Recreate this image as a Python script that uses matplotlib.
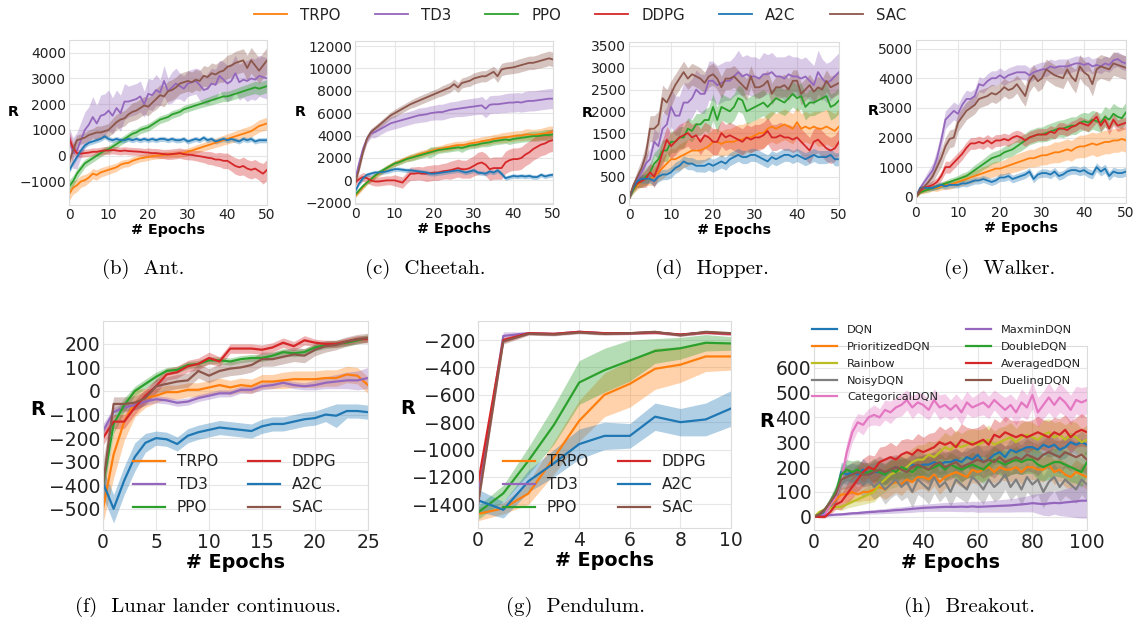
import matplotlib
matplotlib.use('Agg')
import matplotlib.pyplot as plt
import numpy as np

W, H = 1138, 625

# ---------------- data ----------------
algos = ['TRPO', 'TD3', 'PPO', 'DDPG', 'A2C', 'SAC']
ep50 = np.arange(0, 51)
ep25 = np.arange(0, 26)
ep10 = np.arange(0, 11)
ep100 = np.arange(0, 101, 2)

# Ant
ant_trpo = [-1500,-1250,-1150,-1000,-950,-850,-700,-750,-650,-600,
            -550,-500,-450,-350,-300,-280,-200,-150,-100,-80,
            -50,-20,0,10,30,40,50,60,80,100,
            150,200,250,300,350,400,450,500,550,600,
            650,700,750,800,850,900,950,1050,1150,1200,
            1250]
ant_td3 = [800,100,200,600,1000,1200,1500,1250,1550,1600,
           1750,1550,1850,1650,2100,2100,2150,2200,2300,2000,
           2400,2350,2550,2450,2900,2500,2650,2800,2700,2600,
           2800,2850,2900,2750,2550,2600,2800,2750,3100,2950,
           2800,2900,3200,2850,2950,2900,3000,2950,3100,3050,
           3000]
ant_ppo = [-1200,-1000,-700,-500,-300,-200,-100,0,100,200,
           250,350,450,550,650,750,850,900,1000,1050,
           1100,1200,1300,1400,1450,1500,1600,1650,1700,1800,
           1850,1900,1950,2000,2050,2100,2150,2200,2250,2300,
           2300,2350,2400,2450,2500,2550,2600,2650,2600,2650,
           2700]
ant_ddpg = [700,300,100,80,100,120,150,150,180,200,
            200,220,200,180,200,180,170,160,150,130,
            120,100,100,80,60,50,60,80,100,60,
            40,30,0,-20,-50,-80,-100,-150,-150,-200,
            -200,-300,-400,-450,-400,-500,-550,-500,-600,-700,
            -550]
ant_a2c = [-600,-300,-50,200,400,500,550,600,650,750,
           650,600,650,600,600,650,600,650,600,650,
           600,650,600,650,650,600,650,600,600,650,
           550,600,650,600,700,600,650,550,600,650,
           600,650,600,550,650,600,650,550,600,600,
           600]
ant_sac = [-300,200,600,650,700,800,850,900,900,950,
           1000,1150,1300,1400,1450,1600,1700,1750,1850,1950,
           1900,2050,2200,2350,2300,2500,2550,2650,2800,2850,
           2900,2850,2950,2900,3100,3050,3200,3150,3250,3300,
           3450,3500,3600,3650,3700,3400,3700,3500,3300,3500,
           3700]
ant_trpo_sd = [250,250,250,230,220,200,200,200,180,180,
               170,170,160,160,150,150,150,140,140,140,
               130,130,130,130,130,130,130,130,140,140,
               150,150,160,160,170,170,180,180,190,190,
               200,200,210,210,220,220,230,230,240,240,
               250]
ant_td3_sd = [300,600,700,700,700,700,800,700,800,800,
              800,700,700,700,700,600,600,600,600,500,
              600,600,600,500,600,500,600,600,500,500,
              500,500,500,600,500,600,600,600,600,700,
              700,700,700,700,700,800,800,800,800,800,
              800]
ant_ppo_sd = [250,220,200,180,160,150,150,150,150,150,
              150,150,150,150,150,150,150,150,150,150,
              150,150,150,150,150,150,150,150,150,150,
              150,150,150,150,160,170,180,180,190,200,
              200,200,200,210,220,220,230,240,250,250,
              250]
ant_ddpg_sd = [300,200,150,150,150,150,150,150,150,150,
               150,150,150,150,150,150,150,150,150,150,
               180,180,180,180,180,200,200,200,200,200,
               200,200,200,220,220,250,250,250,280,300,
               300,300,320,320,350,350,350,350,350,400,
               400]
ant_a2c_sd = 100
ant_sac_sd = [300,300,200,200,200,200,200,250,250,250,
              250,300,300,300,300,300,350,350,350,350,
              350,350,400,400,400,400,400,400,400,400,
              400,400,400,400,400,400,400,400,400,450,
              450,450,450,450,450,500,500,500,500,500,
              500]

# Cheetah
ch_trpo = [-1400,-1000,-600,-200,100,400,600,800,1100,1300,
           1500,1650,1800,1950,2050,2150,2300,2400,2500,2600,
           2700,2800,2850,2950,3000,3100,3150,3150,3200,3300,
           3350,3400,3500,3550,3600,3700,3750,3800,3850,3900,
           3950,4000,4000,4100,4100,4050,4100,4150,4200,4300,
           4300]
ch_td3 = [0,1500,2800,3700,4200,4300,4500,4700,4900,5100,
          5200,5300,5400,5500,5600,5700,5800,5850,5900,6000,
          6050,6100,6100,6200,6300,6350,6400,6450,6500,6550,
          6600,6650,6700,6400,6750,6800,6800,6850,6900,6950,
          6950,7000,6950,7050,7100,7100,7150,7200,7250,7300,
          7300]
ch_ppo = [-1300,-900,-500,-200,100,400,700,900,1100,1300,
          1500,1600,1750,1900,2000,2100,2200,2300,2400,2500,
          2600,2700,2750,2800,2850,2900,2950,2900,3000,3100,
          3150,3200,3300,3350,3400,3500,3550,3600,3650,3600,
          3700,3750,3800,3850,3900,3950,3950,4000,4050,4050,
          4100]
ch_ddpg = [-200,100,300,200,0,-100,-100,-50,0,0,
           0,-100,-200,200,600,600,650,600,600,650,
           700,700,800,850,900,1000,1100,1000,1000,1100,
           1300,1500,1600,1400,1000,1100,1100,1100,1600,1800,
           1900,1900,2000,2300,2500,2800,3000,3200,3300,3500,
           3600]
ch_a2c = [-1000,-300,200,500,600,700,700,750,800,900,
          1000,1000,950,900,900,850,800,750,700,600,
          600,650,700,750,800,850,900,800,700,800,
          900,700,650,600,800,700,900,600,200,300,
          400,350,400,350,400,300,300,500,350,450,
          500]
ch_sac = [-300,1000,2500,3700,4300,4600,4900,5200,5500,5800,
          6000,6200,6400,6600,6800,6950,7100,7250,7400,7550,
          7700,7850,8000,8150,8300,8600,8300,8700,8800,8900,
          9100,9200,9300,9300,9500,9700,9300,9900,10000,10050,
          10100,10200,10300,10400,10500,10500,10600,10700,10800,10900,
          10800]
ch_trpo_sd = [200,200,200,200,250,250,250,250,250,250,
              250,250,250,250,300,300,300,300,300,300,
              300,300,300,350,350,350,350,350,350,350,
              400,400,400,400,400,400,400,450,450,450,
              450,450,450,500,500,500,500,500,550,550,
              550]
ch_td3_sd = [200,300,400,400,400,500,500,500,500,600,
             600,600,600,600,600,600,650,650,650,650,
             650,700,700,700,700,700,700,750,750,750,
             750,750,800,800,800,800,800,800,850,850,
             850,850,850,900,900,900,900,900,900,900,
             900]
ch_ppo_sd = [200,200,200,200,250,250,250,250,250,250,
             250,250,250,250,300,300,300,300,300,500,
             400,300,300,300,300,300,300,400,300,300,
             300,300,300,350,350,350,350,350,350,400,
             400,400,400,400,450,450,450,450,500,500,
             500]
ch_ddpg_sd = [300,400,400,400,400,400,400,400,400,400,
              500,500,500,500,600,600,600,600,700,700,
              700,700,700,700,800,800,800,800,800,900,
              900,1000,1000,1000,1000,1000,1000,1000,1000,1000,
              1000,1000,1000,1000,1000,1000,1000,1000,1000,1000,
              1000]
ch_a2c_sd = 200
ch_sac_sd = [200,300,300,300,300,300,300,300,300,300,
             350,350,350,350,350,400,400,400,400,400,
             400,400,450,450,450,450,450,450,450,500,
             500,500,500,500,500,500,550,550,550,550,
             550,600,600,600,600,600,600,650,650,650,
             650]

# Hopper
hop_trpo = [0,200,300,400,450,450,500,600,700,800,
            900,900,950,1000,1050,1100,1100,1100,1150,1200,
            1300,1300,1250,1300,1300,1300,1350,1350,1400,1400,
            1450,1500,1500,1600,1650,1600,1650,1700,1650,1600,
            1750,1600,1650,1600,1650,1600,1600,1650,1600,1550,
            1650]
hop_td3 = [0,250,450,600,800,900,1300,1200,1600,1700,
           2100,1900,1900,2200,2200,2300,2500,2400,2400,2700,
           2700,2600,2650,2700,2700,2800,2900,2800,2850,2800,
           2800,2750,2850,2850,2900,2800,2800,2750,2850,2800,
           2800,2750,2800,2700,2600,2900,2750,2650,2700,2800,
           2900]
hop_ppo = [0,200,350,400,500,600,800,900,1100,1100,
           1300,1300,1400,1400,1600,1550,1700,1700,1800,1800,
           2100,1800,2100,2050,2000,2100,2300,2250,2000,2050,
           2100,2150,2200,2100,2200,2300,2250,2200,2300,2400,
           2300,2350,2100,2200,2200,2250,2300,2350,2100,2150,
           2250]
hop_ddpg = [0,250,350,400,450,600,500,750,1050,1350,
            1200,1300,1400,1450,1500,1400,1450,1300,1450,1400,
            1300,1300,1500,1400,1450,1400,1350,1300,1400,1350,
            1400,1400,1450,1550,1400,1400,1450,1400,1400,1350,
            1400,1300,1200,1100,1300,1350,1250,1150,1100,1150,
            1300]
hop_a2c = [0,250,400,450,450,450,400,500,550,550,
           600,700,750,850,800,800,750,750,750,800,
           750,800,850,800,900,950,1000,950,950,1000,
           1000,950,900,850,950,900,950,1000,1000,950,
           1000,950,900,950,1000,950,950,950,1000,900,
           900]
hop_sac = [0,300,500,700,1000,1600,1600,1700,2300,2200,
           2400,2600,2750,2900,2750,2850,2800,2750,2650,2800,
           2850,2750,2550,2750,2750,2800,2700,2600,2500,2800,
           2550,2550,2600,2700,2400,2550,2550,2600,2500,2700,
           2700,2400,2500,2600,2450,2550,2500,2700,2550,2600,
           2650]
hop_trpo_sd = [30,80,100,120,150,150,200,200,250,250,
               250,250,300,300,300,300,300,300,300,300,
               300,300,300,300,300,350,350,350,350,350,
               350,350,350,350,350,350,350,350,350,350,
               350,350,350,350,350,400,400,400,400,400,
               400]
hop_td3_sd = [30,80,120,150,200,250,300,300,350,400,
              450,450,450,450,450,450,450,450,450,450,
              450,450,450,450,450,450,500,450,450,450,
              450,450,500,450,450,450,450,500,450,450,
              450,450,450,450,450,500,450,450,450,450,
              450]
hop_ppo_sd = [30,80,100,150,200,200,250,250,250,250,
              250,250,250,250,250,250,250,250,250,300,
              300,300,300,300,300,300,300,300,300,300,
              300,300,300,300,300,300,300,300,300,300,
              300,300,300,300,300,300,300,300,300,300,
              300]
hop_ddpg_sd = [30,80,100,150,200,200,250,250,300,300,
               300,300,300,300,300,300,300,300,300,300,
               300,300,300,300,300,300,300,300,300,300,
               300,300,300,300,300,300,300,300,300,300,
               300,300,300,300,300,300,300,300,300,300,
               300]
hop_a2c_sd = [30,60,80,100,100,100,120,120,120,120,
              130,130,130,130,140,140,140,140,150,150,
              150,150,150,150,150,150,150,150,150,150,
              150,150,150,150,150,150,150,150,150,150,
              150,150,150,150,150,150,150,150,150,150,
              150]
hop_sac_sd = [30,80,150,200,250,300,300,300,300,300,
              300,250,250,250,250,250,250,250,250,250,
              250,250,250,250,250,250,250,250,250,250,
              250,250,250,250,250,250,250,250,250,250,
              250,250,250,250,250,250,250,250,250,250,
              250]

# Walker
wk_trpo = [0,150,200,250,300,300,350,400,400,450,
           500,550,600,650,700,750,800,850,900,950,
           950,1000,1050,1100,1150,1200,1250,1300,1300,1350,
           1400,1400,1450,1500,1500,1550,1600,1550,1650,1700,
           1700,1750,1800,1750,1800,1850,1850,1900,1900,1950,
           1900]
wk_td3 = [0,300,500,700,900,1300,1900,2600,2750,2900,
          2800,3100,3300,3300,3400,3800,3750,3900,4000,4000,
          4100,4000,4100,4150,4200,4200,4200,4100,4200,4250,
          4300,4300,4400,4350,4400,4400,4400,4450,4500,4500,
          4450,4500,4400,4450,4400,4500,4450,4600,4650,4550,
          4500]
wk_ppo = [0,150,200,250,300,350,400,450,500,550,
          600,650,700,800,900,1000,1100,1200,1300,1350,
          1400,1500,1550,1600,1700,1800,1900,2000,2050,2100,
          2100,2150,2200,2250,2300,2300,2350,2400,2400,2500,
          2550,2500,2600,2550,2500,2700,2600,2800,2700,2650,
          2850]
wk_ddpg = [0,200,300,350,400,500,700,1000,1000,1150,
           1300,1450,1650,1800,1800,1850,1800,1900,1800,1900,
           1900,1950,1900,2000,2050,2000,1900,2000,2050,2100,
           2100,2100,2200,2150,2300,2300,2250,2350,2400,2500,
           2450,2400,2550,2700,2400,2600,2300,2600,2400,2450,
           2500]
wk_a2c = [0,300,300,300,300,350,400,350,400,400,
          400,450,450,500,550,550,600,550,500,550,
          650,650,700,600,650,700,750,850,600,750,
          800,800,750,850,700,750,850,900,900,850,
          900,800,750,1000,850,950,700,850,800,800,
          850]
wk_sac = [0,250,350,500,700,1000,1300,1700,1950,2000,
          2500,2700,2900,3000,3100,3300,3350,3400,3500,3450,
          3550,3700,3600,3650,3800,3600,3400,3900,4100,3900,
          4000,4300,4200,4100,4050,4000,4300,4050,3900,4400,
          4200,4100,3800,4300,4400,4350,4300,4500,4450,4400,
          4350]
wk_trpo_sd = [30,60,80,100,100,120,120,150,150,150,
              150,180,180,200,200,200,220,220,250,250,
              250,250,280,280,300,300,300,300,300,320,
              320,320,320,350,350,350,350,350,350,380,
              380,380,380,400,400,400,400,400,400,400,
              400]
wk_td3_sd = [30,100,150,200,250,300,300,300,300,300,
             300,300,300,250,250,250,250,250,250,250,
             250,250,250,250,250,250,250,250,250,250,
             250,250,250,250,250,250,250,250,250,250,
             250,250,250,250,250,250,250,250,250,250,
             250]
wk_ppo_sd = [30,50,60,80,80,100,100,100,120,120,
             120,150,150,150,180,180,180,200,200,200,
             200,200,220,220,220,250,250,250,250,250,
             250,280,280,280,280,300,300,300,300,300,
             300,320,320,320,320,350,350,350,350,350,
             350]
wk_ddpg_sd = [30,80,100,120,150,150,150,200,200,200,
              200,200,200,200,200,200,200,200,200,200,
              200,200,200,200,200,200,200,200,200,200,
              200,200,200,200,200,200,200,200,200,200,
              200,200,200,200,200,200,200,200,200,200,
              200]
wk_a2c_sd = [30,60,80,80,80,100,100,100,100,100,
             100,100,120,120,120,120,120,120,120,120,
             130,130,130,130,130,130,130,130,130,130,
             140,140,140,140,140,140,140,140,140,140,
             150,150,150,150,150,150,150,150,150,150,
             150]
wk_sac_sd = [30,80,100,150,200,250,300,300,300,300,
             300,300,300,300,300,300,300,300,300,300,
             300,300,300,300,300,350,350,350,350,350,
             350,350,350,350,350,350,350,350,400,400,
             400,400,400,400,400,400,400,400,400,400,
             400]

# Lunar lander continuous
ll_trpo = [-500,-270,-130,-50,-30,-20,-5,-5,5,5,15,25,15,25,20,40,40,45,50,50,50,55,55,70,65,25]
ll_td3 = [-170,-90,-70,-60,-45,-35,-40,-50,-45,-30,-20,-10,-10,5,5,20,25,35,25,20,25,35,40,45,45,55]
ll_ppo = [-400,-140,-60,0,30,60,85,90,110,115,130,130,125,135,140,140,150,165,160,165,185,195,200,205,215,225]
ll_ddpg = [-200,-130,-130,-70,-20,20,70,80,105,115,140,125,180,180,180,175,185,205,190,215,205,200,200,210,220,220]
ll_a2c = [-390,-500,-380,-280,-220,-200,-205,-225,-190,-175,-165,-155,-160,-165,-170,-150,-140,-140,-130,-120,-115,-100,-105,-85,-85,-90]
ll_sac = [-400,-55,-55,-50,-30,20,30,40,45,85,65,85,95,100,110,135,135,145,155,150,175,190,195,210,220,225]
ll_trpo_sd = [60,100,80,60,40,30,30,30,30,30,30,30,30,30,30,30,30,35,35,35,35,35,35,35,35,35]
ll_td3_sd = [30,20,20,20,15,15,15,15,15,15,15,15,15,15,15,15,15,15,15,15,20,25,30,35,40,45]
ll_ppo_sd = [40,40,30,20,20,20,15,15,15,15,15,15,15,15,15,15,15,15,15,15,15,15,15,15,15,15]
ll_ddpg_sd = [30,30,30,30,30,30,25,25,25,25,25,20,20,20,20,20,20,20,20,20,15,15,15,15,15,15]
ll_a2c_sd = [60,60,60,60,40,30,30,30,30,30,30,30,30,30,30,30,30,30,30,30,30,30,50,30,30,30]
ll_sac_sd = [100,30,30,30,30,30,30,30,30,30,30,30,30,30,30,30,30,30,30,30,25,25,20,20,20,20]

# Pendulum
pd_trpo = [-1470,-1430,-1320,-1060,-790,-600,-520,-410,-380,-320,-320]
pd_td3 = [-1350,-170,-150,-155,-140,-150,-150,-145,-160,-145,-155]
pd_ppo = [-1460,-1320,-1080,-820,-510,-420,-350,-280,-260,-220,-225]
pd_ddpg = [-1250,-200,-150,-155,-140,-150,-150,-145,-160,-145,-155]
pd_a2c = [-1370,-1440,-1230,-1100,-960,-900,-900,-760,-800,-780,-700]
pd_sac = [-1400,-210,-155,-160,-145,-155,-150,-140,-165,-140,-150]
pd_trpo_sd = [50,40,80,120,150,160,170,150,130,110,100]
pd_td3_sd = [30,30,10,10,10,10,10,10,10,10,10]
pd_ppo_sd = [50,60,100,140,160,160,150,90,80,60,50]
pd_ddpg_sd = [30,20,10,10,10,10,10,10,10,10,10]
pd_a2c_sd = [80,60,80,100,110,100,90,100,100,120,130]
pd_sac_sd = [40,20,10,10,10,10,10,10,10,10,10]

# Breakout (every 2 epochs)
dqn_names = ['DQN', 'PrioritizedDQN', 'Rainbow', 'NoisyDQN', 'CategoricalDQN',
             'MaxminDQN', 'DoubleDQN', 'AveragedDQN', 'DuelingDQN']
bo_dqn = [0,5,20,50,80,180,170,180,170,190,
          170,180,180,170,190,200,190,200,210,200,
          210,210,220,210,220,220,230,220,240,230,
          250,220,230,250,260,240,270,260,270,280,
          280,270,290,280,290,270,280,300,290,300,
          290]
bo_prio = [0,10,30,50,70,90,90,100,90,100,
           100,110,120,110,130,140,130,150,140,160,
           160,150,170,140,160,170,180,170,160,190,
           180,190,200,180,200,190,190,200,180,200,
           200,190,190,210,180,190,170,160,180,170,
           160]
bo_rainbow = [0,20,30,35,40,40,50,60,70,80,
              90,100,130,150,170,180,190,200,220,230,
              230,250,240,260,280,270,290,280,290,300,
              290,300,310,290,300,310,320,300,320,330,
              320,310,330,340,320,330,310,330,320,300,
              310]
bo_noisy = [0,10,30,60,90,130,150,140,160,130,
            150,120,140,110,130,150,120,140,100,150,
            130,110,160,120,140,100,150,130,110,160,
            140,110,150,120,140,170,120,150,110,160,
            130,150,100,140,160,120,150,130,110,150,
            130]
bo_cat = [0,0,10,50,80,150,260,340,380,370,
          400,410,400,430,420,440,450,470,440,460,
          450,430,470,440,450,430,450,420,460,440,
          450,460,440,470,450,430,450,420,460,440,
          490,420,450,480,450,480,460,430,470,460,
          470]
bo_maxmin = [0,2,5,7,9,10,12,14,15,17,
             19,20,22,23,25,27,28,30,32,34,
             36,37,38,39,40,40,40,41,40,42,
             40,41,42,43,44,45,46,48,50,52,
             55,53,51,54,56,55,58,60,62,65,
             65]
bo_double = [0,10,30,60,100,170,190,180,190,170,
             180,190,180,170,190,180,200,190,180,200,
             200,190,200,210,190,210,200,190,200,210,
             200,190,210,230,220,210,220,230,220,230,
             230,210,200,210,220,220,210,200,190,180,
             220]
bo_avg = [0,0,0,20,50,60,90,120,150,180,
          200,190,220,230,240,230,250,260,250,270,
          260,270,280,300,290,300,280,310,300,290,
          300,310,290,330,320,340,330,320,330,320,
          330,340,330,320,340,330,350,320,340,350,
          340]
bo_duel = [0,10,30,60,90,150,160,170,180,170,
           170,180,190,180,190,200,190,180,200,210,
           200,190,210,220,200,210,220,200,210,220,
           230,220,230,220,240,220,230,240,230,250,
           240,230,250,260,250,240,260,250,240,250,
           230]
bo_dqn_sd = [0,5,10,20,30,40,40,35,40,45,40,40,45,40,40,45,40,40,45,40,
             40,45,40,40,45,40,45,40,40,45,40,45,40,40,45,40,45,40,40,45,
             40,45,40,40,45,40,45,40,40,45,40]
bo_prio_sd = [0,5,10,15,20,30,30,35,30,35,35,40,35,40,45,40,45,40,45,50,
              45,50,45,50,45,50,45,50,45,50,50,45,50,45,50,45,50,45,50,45,
              50,45,50,45,50,45,50,45,50,45,50]
bo_rainbow_sd = [0,5,10,10,10,15,15,20,25,30,35,40,45,50,55,60,55,60,55,60,
                 60,55,60,55,60,55,60,55,60,55,60,55,60,55,60,55,60,55,60,55,
                 60,55,60,55,60,55,60,55,60,55,60]
bo_noisy_sd = [0,5,10,20,30,40,45,50,55,50,55,50,55,60,55,60,55,60,65,60,
               55,60,65,60,55,60,65,60,55,60,65,60,55,60,65,60,55,60,65,60,
               55,60,65,60,55,60,65,60,55,60,65]
bo_cat_sd = [0,0,5,10,20,30,40,40,35,40,35,40,35,40,45,40,45,40,45,40,
             45,40,45,50,45,40,45,50,45,40,45,50,45,40,45,50,45,50,55,50,
             55,60,55,60,55,60,55,60,55,60,55]
bo_maxmin_sd = [0,2,3,4,5,5,6,6,7,8,8,9,10,10,11,12,12,13,14,14,
                15,15,16,17,18,18,19,20,20,21,22,22,23,24,25,26,27,28,30,32,
                35,40,45,50,45,50,55,60,65,70,70]
bo_double_sd = [0,5,10,20,30,40,40,45,40,45,40,45,40,45,40,45,40,45,40,45,
                45,50,45,50,45,50,45,50,45,50,50,55,50,55,50,55,50,55,50,55,
                55,60,55,60,55,60,55,60,55,60,55]
bo_avg_sd = [0,5,5,10,20,30,40,45,50,55,50,55,60,55,60,55,60,55,60,65,
             60,65,60,65,60,65,60,65,60,65,60,65,60,65,60,65,60,65,60,65,
             60,65,60,65,60,65,60,65,60,65,60]
bo_duel_sd = [0,5,10,20,30,40,45,50,45,50,45,50,55,50,55,50,55,50,55,60,
              55,60,55,60,55,60,55,60,55,60,60,65,60,65,60,65,60,65,60,65,
              60,65,60,65,60,65,60,65,60,65,60]

# ---------------- style ----------------
colors = {'TRPO': '#ff7f0e', 'TD3': '#9467bd', 'PPO': '#2ca02c',
          'DDPG': '#d62728', 'A2C': '#1f77b4', 'SAC': '#8c564b',
          'DQN': '#1f77b4', 'PrioritizedDQN': '#ff7f0e', 'Rainbow': '#bcbd22',
          'NoisyDQN': '#7f7f7f', 'CategoricalDQN': '#e377c2', 'MaxminDQN': '#9467bd',
          'DoubleDQN': '#2ca02c', 'AveragedDQN': '#d62728', 'DuelingDQN': '#8c564b'}

plt.rcParams['font.family'] = ['DejaVu Sans']
plt.rcParams['text.color'] = '#222222'

fig = plt.figure(figsize=(W / 100, H / 100), dpi=100)


def box(l, t, r, b):
    return [l / W, 1 - b / H, (r - l) / W, (b - t) / H]


def panel(rect, x, means, sds, names, xticks, yticks, ylim, fs, lw, rpos):
    ax = fig.add_axes(box(*rect))
    for n in names:
        m = np.asarray(means[n], dtype=float)
        s = np.asarray(sds[n], dtype=float)
        ax.fill_between(x, m - s, m + s, color=colors[n], alpha=0.35, lw=0)
        ax.plot(x, m, color=colors[n], lw=lw, label=n)
    ax.set_xlim(x[0], x[-1])
    ax.set_ylim(*ylim)
    ax.set_xticks(xticks)
    ax.set_yticks(yticks)
    ax.grid(True, color='#e6e6e6', lw=0.8)
    ax.set_axisbelow(True)
    for sp in ax.spines.values():
        sp.set_color('#dcdcdc')
        sp.set_linewidth(0.8)
    ax.tick_params(length=0, pad=2, labelsize=fs, colors='#222222')
    ax.set_xlabel('# Epochs', fontsize=fs + 0.3, fontweight='bold', labelpad=1)
    ax.set_ylabel('R', fontsize=fs + 0.3, fontweight='bold', rotation=0)
    ax.yaxis.set_label_coords(*rpos)
    return ax


def pack(prefix_vals):
    return dict(zip(algos, prefix_vals))


top_fs = 10
ax_ant = panel((69, 40, 267, 205), ep50,
               pack([ant_trpo, ant_td3, ant_ppo, ant_ddpg, ant_a2c, ant_sac]),
               pack([ant_trpo_sd, ant_td3_sd, ant_ppo_sd, ant_ddpg_sd, ant_a2c_sd, ant_sac_sd]),
               algos, range(0, 51, 10), range(-1000, 4001, 1000), (-1915, 4490),
               top_fs, 1.3, (-0.28, 0.52))
ax_ch = panel((355, 41, 553, 204), ep50,
              pack([ch_trpo, ch_td3, ch_ppo, ch_ddpg, ch_a2c, ch_sac]),
              pack([ch_trpo_sd, ch_td3_sd, ch_ppo_sd, ch_ddpg_sd, ch_a2c_sd, ch_sac_sd]),
              algos, range(0, 51, 10), range(-2000, 12001, 2000), (-2110, 12450),
              top_fs, 1.3, (-0.275, 0.52))
ax_hop = panel((629, 42, 839, 205), ep50,
               pack([hop_trpo, hop_td3, hop_ppo, hop_ddpg, hop_a2c, hop_sac]),
               pack([hop_trpo_sd, hop_td3_sd, hop_ppo_sd, hop_ddpg_sd, hop_a2c_sd, hop_sac_sd]),
               algos, range(0, 51, 10), range(0, 3501, 500), (-150, 3590),
               top_fs, 1.3, (-0.2, 0.52))
ax_wk = panel((916, 40, 1126, 203), ep50,
              pack([wk_trpo, wk_td3, wk_ppo, wk_ddpg, wk_a2c, wk_sac]),
              pack([wk_trpo_sd, wk_td3_sd, wk_ppo_sd, wk_ddpg_sd, wk_a2c_sd, wk_sac_sd]),
              algos, range(0, 51, 10), range(0, 5001, 1000), (-210, 5290),
              top_fs, 1.3, (-0.205, 0.52))

bot_fs = 13.5
ax_ll = panel((103, 321, 368, 530), ep25,
              pack([ll_trpo, ll_td3, ll_ppo, ll_ddpg, ll_a2c, ll_sac]),
              pack([ll_trpo_sd, ll_td3_sd, ll_ppo_sd, ll_ddpg_sd, ll_a2c_sd, ll_sac_sd]),
              algos, range(0, 26, 5), range(-500, 201, 100), (-590, 297),
              bot_fs, 1.6, (-0.245, 0.53))
ax_pd = panel((478, 321, 731, 528), ep10,
              pack([pd_trpo, pd_td3, pd_ppo, pd_ddpg, pd_a2c, pd_sac]),
              pack([pd_trpo_sd, pd_td3_sd, pd_ppo_sd, pd_ddpg_sd, pd_a2c_sd, pd_sac_sd]),
              algos, range(0, 11, 2), range(-1400, -199, 200), (-1573, -61),
              bot_fs, 1.6, (-0.277, 0.53))
bo_means = dict(zip(dqn_names, [bo_dqn, bo_prio, bo_rainbow, bo_noisy, bo_cat,
                                bo_maxmin, bo_double, bo_avg, bo_duel]))
bo_sds = dict(zip(dqn_names, [bo_dqn_sd, bo_prio_sd, bo_rainbow_sd, bo_noisy_sd, bo_cat_sd,
                              bo_maxmin_sd, bo_double_sd, bo_avg_sd, bo_duel_sd]))
ax_bo = panel((814, 346, 1087, 530), ep100, bo_means, bo_sds, dqn_names,
              range(0, 101, 20), range(0, 601, 100), (-53, 687),
              bot_fs, 1.6, (-0.175, 0.54))

# legends
h, l = ax_ant.get_legend_handles_labels()
fig.legend(h, l, loc='center', bbox_to_anchor=(580 / W, 1 - 15 / H), ncol=6,
           frameon=False, fontsize=10.8, handlelength=2.2, handletextpad=0.85,
           columnspacing=2.3)
for ax, lx in ((ax_ll, 133), (ax_pd, 503)):
    h, l = ax.get_legend_handles_labels()
    ax.legend(h, l, loc='upper left', bbox_to_anchor=(lx / W, 1 - 454 / H),
              bbox_transform=fig.transFigure, ncol=2, frameon=False, fontsize=11,
              borderpad=0, borderaxespad=0, handlelength=2.1, handletextpad=0.75,
              columnspacing=2.0, labelspacing=0.52)
h, l = ax_bo.get_legend_handles_labels()
ax_bo.legend(h, l, loc='upper left', bbox_to_anchor=(812 / W, 1 - 325 / H),
             bbox_transform=fig.transFigure, ncol=2, frameon=False, fontsize=8.2,
             borderpad=0, borderaxespad=0, handlelength=2.2, handletextpad=0.9,
             columnspacing=2.4, labelspacing=0.6)

# captions
captions = ['(b)  Ant.', '(c)  Cheetah.', '(d)  Hopper.', '(e)  Walker.',
            '(f)  Lunar lander continuous.', '(g)  Pendulum.', '(h)  Breakout.']
cap_pos = [(143, 269), (425, 269), (712, 269), (1000, 269),
           (208, 607), (575, 607), (970, 607)]
for txt, (cx, cy) in zip(captions, cap_pos):
    fig.text(cx / W, 1 - cy / H, txt, family='cmr10', fontsize=15,
             ha='center', va='center', color='black')

fig.savefig('out.png', dpi=100)
